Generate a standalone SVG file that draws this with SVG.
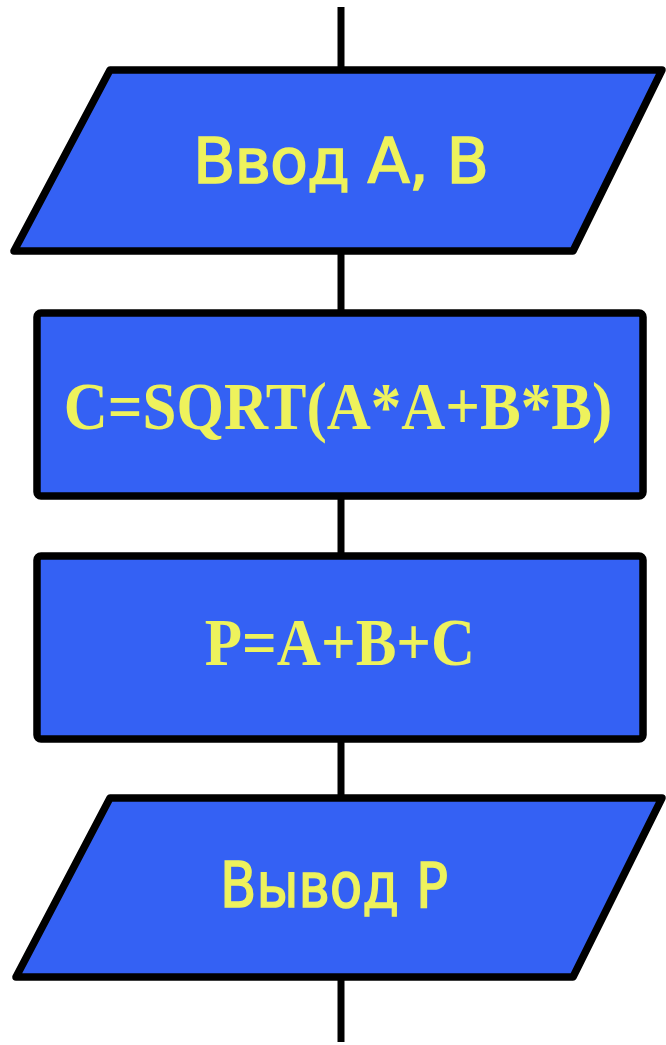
<svg xmlns="http://www.w3.org/2000/svg" width="666" height="1045" viewBox="0 0 666 1045">
<style>
.shape{fill:#3461f4;stroke:#000;stroke-width:7.5;stroke-linejoin:round}
.conn{stroke:#000;stroke-width:7;fill:none}
.io{font-family:"DejaVu Sans",sans-serif;font-size:62px;fill:#eef25c;stroke:#eef25c;stroke-width:1.5;text-anchor:middle}
.op{font-family:"Liberation Serif",serif;font-weight:bold;font-size:61px;fill:#eef25c;text-anchor:middle}
</style>
<rect width="666" height="1045" fill="#ffffff"/>
<g id="connectors">
<line class="conn" x1="341" y1="7" x2="341" y2="70"/>
<line class="conn" x1="341" y1="252" x2="341" y2="312"/>
<line class="conn" x1="341" y1="497" x2="341" y2="553"/>
<line class="conn" x1="341" y1="740" x2="341" y2="798"/>
<line class="conn" x1="341" y1="978" x2="341" y2="1042"/>
</g>
<g id="input">
<polygon class="shape" points="110,70 662,70 573,251 14,251"/>
<text class="io" x="341" y="183" textLength="296" lengthAdjust="spacing">Ввод А, В</text>
</g>
<g id="calc_c">
<rect class="shape" x="37" y="313" width="606" height="183" rx="4"/>
<text class="op" transform="translate(338,429) scale(1,1.1)" x="0" y="0">C=SQRT(A*A+B*B)</text>
</g>
<g id="calc_p">
<rect class="shape" x="37" y="556" width="606" height="183" rx="4"/>
<text class="op" transform="translate(340,665) scale(1,1.1)" x="0" y="0">P=A+B+C</text>
</g>
<g id="output">
<polygon class="shape" points="110,798 662,798 573,977 16,977"/>
<text class="io" x="334" y="907" font-size="55" textLength="228" lengthAdjust="spacingAndGlyphs">Вывод Р</text>
</g>
</svg>
